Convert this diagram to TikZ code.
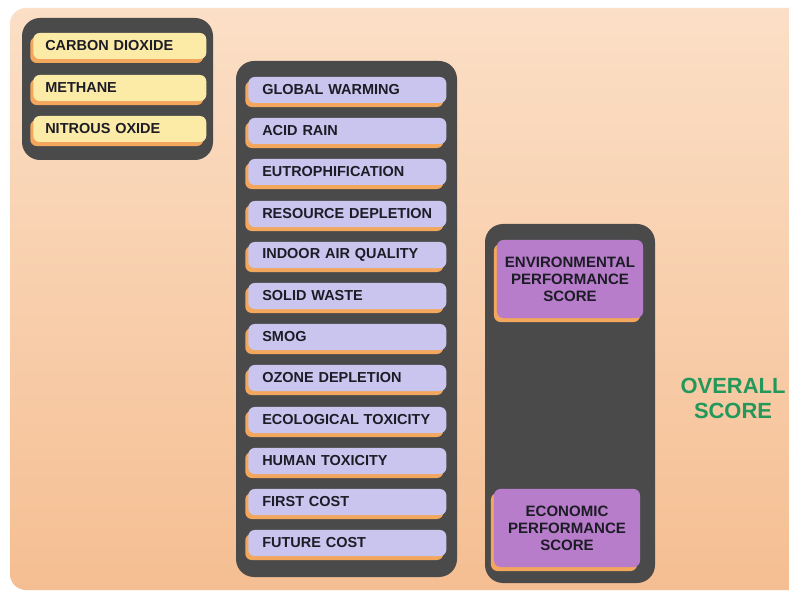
\documentclass[tikz,border=0pt]{standalone}
\usepackage{fontspec}
\setmainfont{Liberation Sans}
\usepackage{tikz}
\usetikzlibrary{positioning,fit,shadows,backgrounds}
\definecolor{peachtop}{HTML}{FBDFC6}
\definecolor{peachlow}{HTML}{F5BE92}
\definecolor{slate}{HTML}{4A4A4A}
\definecolor{lavender}{HTML}{CAC5EE}
\definecolor{butter}{HTML}{FCEBA6}
\definecolor{orchid}{HTML}{B87DCA}
\definecolor{rim}{HTML}{F3A75C}
\definecolor{ink}{HTML}{1C1C26}
\definecolor{leaf}{HTML}{22985A}

\begin{document}
\begin{tikzpicture}[
  x=0.025cm, y=-0.025cm,
  font=\bfseries\fontsize{10.3}{12}\selectfont,
  panel/.style={fill=slate, rounded corners=0.45cm, inner sep=0pt},
  chip/.style={rounded corners=0.16cm, text=ink, inner xsep=0pt,
    drop shadow={shadow xshift=-0.075cm, shadow yshift=-0.1cm, fill=rim, opacity=1}},
  pill/.style={chip, fill=lavender, anchor=west, minimum height=0.65cm,
    text width=4.95cm, align=left, execute at begin node=\hspace*{0.35cm}},
  gas/.style={chip, fill=butter, anchor=west, minimum height=0.65cm,
    text width=4.325cm, align=left, execute at begin node=\hspace*{0.3cm}},
  score/.style={chip, fill=orchid, text width=3.65cm, minimum height=1.95cm,
    align=center, font=\bfseries\fontsize{10.7}{12.2}\selectfont},
  total/.style={text=leaf, align=center, font=\bfseries\fontsize{15.6}{17.8}\selectfont}
]
\useasboundingbox (0,0) rectangle (789,596);
\fill[white] (0,0) rectangle (789,596);
% backdrop
\path[rounded corners=0.4cm, top color=peachtop, bottom color=peachlow] (10,8) rectangle (810,590);

% containers
\node[panel, fit={(22,18) (213,160)}]   (gaspanel)    {};
\node[panel, fit={(236,61) (457,577)}]  (impactpanel) {};
\node[panel, fit={(485,224) (655,583)}] (scorepanel)  {};

% greenhouse gases
\node[gas] (co2) at (33,46)  {CARBON DIOXIDE};
\node[gas] (ch4) at (33,88)  {METHANE};
\node[gas] (n2o) at (33,129) {NITROUS OXIDE};

% impact categories
\node[pill] (warming)  at (248,90)  {GLOBAL WARMING};
\node[pill] (acid)     at (248,131) {ACID RAIN};
\node[pill] (eutro)    at (248,172) {EUTROPHIFICATION};
\node[pill] (resource) at (248,214) {RESOURCE DEPLETION};
\node[pill] (indoor)   at (248,255) {INDOOR AIR QUALITY};
\node[pill] (waste)    at (248,296) {SOLID WASTE};
\node[pill] (smog)     at (248,337) {SMOG};
\node[pill] (ozone)    at (248,378) {OZONE DEPLETION};
\node[pill] (ecotox)   at (248,420) {ECOLOGICAL TOXICITY};
\node[pill] (humantox) at (248,461) {HUMAN TOXICITY};
\node[pill] (firstc)   at (248,502) {FIRST COST};
\node[pill] (futurec)  at (248,543) {FUTURE COST};

% performance scores
\node[score] (envscore) at (570,279) {ENVIRONMENTAL\\PERFORMANCE\\SCORE};
\node[score] (ecoscore) at (567,528) {ECONOMIC\\PERFORMANCE\\SCORE};

\node[total] (overall) at (733,398) {OVERALL\\SCORE};
\end{tikzpicture}
\end{document}
